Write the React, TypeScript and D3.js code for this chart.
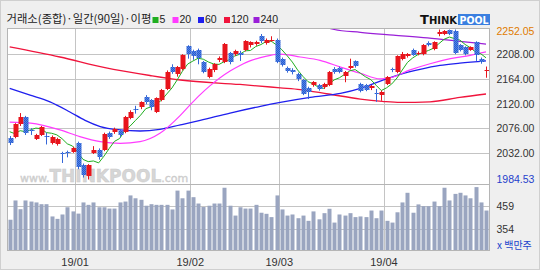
import React from "react";
import * as d3 from "d3";

// ---------- data ----------
const opens = [
  2058, 2061, 2083, 2096, 2073, 2057, 2064, 2062, 2049, 2048,
  2031, 2033, 2034, 2050, 2010, 1991, 2032, 2038, 2037, 2067,
  2069, 2071, 2069, 2094, 2111, 2113, 2131, 2126, 2105, 2126,
  2146, 2186, 2172, 2181, 2222, 2213, 2215, 2194, 2168, 2179,
  2197, 2194, 2210, 2208, 2211, 2215, 2224, 2226, 2240, 2228,
  2232, 2233, 2200, 2184, 2180, 2173, 2162, 2148, 2153, 2153,
  2149, 2153, 2182, 2183, 2170, 2183, 2195, 2155, 2153, 2147,
  2138, 2135, 2155, 2181, 2176, 2200, 2204, 2216, 2208, 2208,
  2228, 2217, 2244, 2244, 2251, 2250, 2224, 2220, 2216, 2229,
  2200, 2178,
];
const closes = [
  2049, 2083, 2096, 2067, 2071, 2064, 2078, 2061, 2061, 2057,
  2030, 2032, 2041, 2007, 1992, 2010, 2038, 2024, 2066, 2060,
  2074, 2064, 2096, 2105, 2109, 2122, 2122, 2113, 2129, 2144,
  2177, 2176, 2185, 2206, 2208, 2204, 2201, 2176, 2181, 2190,
  2201, 2226, 2194, 2213, 2206, 2231, 2229, 2229, 2231, 2233,
  2234, 2194, 2188, 2178, 2176, 2164, 2137, 2140, 2158, 2146,
  2155, 2176, 2176, 2177, 2176, 2187, 2187, 2143, 2145, 2151,
  2137, 2140, 2167, 2180, 2204, 2208, 2208, 2207, 2210, 2224,
  2224, 2229, 2247, 2249, 2244, 2210, 2216, 2208, 2220, 2206,
  2194, 2180,
];
const highs = [
  2062, 2085, 2103, 2098, 2076, 2066, 2080, 2068, 2063, 2059,
  2034, 2036, 2043, 2052, 2013, 2012, 2044, 2040, 2068, 2070,
  2077, 2074, 2098, 2108, 2116, 2124, 2135, 2128, 2131, 2146,
  2179, 2190, 2187, 2208, 2224, 2216, 2218, 2196, 2184, 2192,
  2204, 2228, 2212, 2216, 2214, 2233, 2231, 2232, 2244, 2236,
  2240, 2236, 2202, 2186, 2183, 2175, 2164, 2150, 2160, 2155,
  2157, 2178, 2185, 2186, 2178, 2200, 2197, 2157, 2155, 2153,
  2146, 2143, 2169, 2184, 2206, 2212, 2210, 2218, 2213, 2226,
  2231, 2231, 2252.05, 2251, 2252, 2252, 2226, 2222, 2222, 2231,
  2202, 2186,
];
const lows = [
  2046, 2058, 2080, 2064, 2064, 2055, 2062, 2047, 2047, 2045,
  2014, 2024, 2032, 2003, 1988, 1984.53, 2030, 2020, 2035, 2057,
  2066, 2060, 2067, 2092, 2102, 2110, 2119, 2108, 2103, 2124,
  2144, 2173, 2168, 2179, 2200, 2198, 2190, 2174, 2165, 2176,
  2194, 2192, 2190, 2205, 2196, 2213, 2220, 2223, 2228, 2225,
  2230, 2192, 2186, 2175, 2172, 2160, 2135, 2128, 2150, 2143,
  2146, 2151, 2173, 2174, 2158, 2181, 2184, 2140, 2142, 2144,
  2123, 2125, 2153, 2176, 2174, 2197, 2202, 2205, 2206, 2206,
  2222, 2215, 2240, 2242, 2242, 2208, 2213, 2206, 2214, 2196,
  2191, 2166,
];
const volumes = [
  394, 482, 442, 482, 477, 473, 465, 465, 409, 398,
  418, 451, 432, 422, 473, 462, 473, 451, 451, 445,
  445, 473, 477, 505, 492, 485, 458, 465, 462, 462,
  462, 441, 527, 492, 527, 497, 468, 452, 458, 468,
  468, 540, 458, 413, 451, 445, 445, 462, 426, 421,
  406, 505, 441, 413, 418, 401, 413, 389, 432, 396,
  424, 444, 381, 418, 413, 424, 406, 409, 406, 436,
  401, 436, 389, 381, 428, 473, 517, 426, 464, 456,
  456, 477, 456, 540, 482, 512, 517, 505, 492, 543,
  473, 436,
];
// closes of the 4 sessions before the first candle (for the 5-day average)
const priorCloses = [2101, 2069, 2076, 2054];

// moving averages: [candle index, value]
const ma20Pts: [number, number][] = [
  [0, 2087], [4, 2085], [9.6, 2073], [13.4, 2061], [17.3, 2052], [21.1, 2049],
  [24.9, 2052], [28.7, 2067], [32.6, 2099], [34.5, 2118], [36.4, 2136],
  [38.3, 2152], [40.2, 2166], [42.1, 2178], [44, 2188], [45.9, 2196],
  [47.9, 2202], [49.8, 2206], [51.7, 2208], [55.5, 2203], [59.3, 2197],
  [63.2, 2185], [67, 2174], [70.8, 2164], [72.7, 2166], [76.5, 2180],
  [80.3, 2191], [84.2, 2200], [88, 2206], [91, 2212],
];
const ma60Pts: [number, number][] = [
  [0, 2147], [3.9, 2135], [7.7, 2123], [11.5, 2105], [14.4, 2090],
  [17.3, 2079], [21.1, 2073], [24.9, 2071], [28.7, 2074], [32.6, 2082],
  [36.4, 2090], [42.1, 2103], [47.9, 2115], [51.7, 2122], [57.4, 2131],
  [63.2, 2138], [67, 2147], [70.8, 2160], [74.6, 2172], [78.4, 2181],
  [82.2, 2188], [86, 2192], [91, 2196],
];
const ma120Pts: [number, number][] = [
  [0, 2221], [9.6, 2203], [18.2, 2184], [26.8, 2170], [32.6, 2162],
  [44, 2154], [51.7, 2148], [55.5, 2145], [60.9, 2137], [67, 2128],
  [71.2, 2124], [74.6, 2122], [80.3, 2123], [86, 2131], [91, 2137],
];
const ma240Pts: [number, number][] = [
  [60, 2257], [62, 2252], [67, 2247], [73.3, 2242], [79.8, 2237],
  [86, 2231], [91, 2226],
];

const monthLabels = ["19/01", "19/02", "19/03", "19/04"];
const monthStarts = [13, 35, 52, 72];
const priceMin = 1984.53;
const priceMax = 2252.05;
const priceTicks = [2208, 2164, 2120, 2076, 2032];
const volTicks = [459, 354];
const maNames = ["5", "20", "60", "120", "240"];
const maColors = ["#1fae1f", "#ff3cff", "#1f1fee", "#f0143c", "#9a1fd8"];

// ---------- layout ----------
const W = 540;
const H = 270;
const L = 7;
const R = 489;
const T = 28;
const PB = 184;
const VB = 250;

const RED = "#e8141c";
const BLUE = "#3567d8";

export default function App() {
  const n = closes.length;
  const x = d3.scaleLinear().domain([0, n - 1]).range([9.7, 486]);
  const y = d3.scaleLinear().domain([priceMin, priceMax]).range([179.5, 29.5]);
  const yv = d3.scaleLinear().domain([volTicks[1], volTicks[0]]).range([228.5, 205.5]);

  const all = [...priorCloses, ...closes];
  const ma5: [number, number][] = closes.map((_, i) => {
    const w = all.slice(i, i + 5);
    return [i, d3.mean(w) as number];
  });

  const smooth = d3
    .line<[number, number]>()
    .x((d) => x(d[0]))
    .y((d) => y(d[1]))
    .curve(d3.curveMonotoneX);
  const straight = d3
    .line<[number, number]>()
    .x((d) => x(d[0]))
    .y((d) => y(d[1]));

  const bodyW = 4;
  const volW = 4;

  const sans = "'Noto Sans CJK KR', 'DejaVu Sans', sans-serif";
  const num = "'Liberation Sans', Arial, sans-serif";

  const legendX = [152.5, 172.5, 198, 224, 253.5];

  const axisText = (s: string, yy: number, fill: string, key?: string | number) => (
    <text key={key} x={496.5} y={yy} fontFamily={num} fontSize={10.5} fill={fill}>
      {s}
    </text>
  );

  return (
    <svg width={W} height={H} viewBox={`0 0 ${W} ${H}`} style={{ position: "absolute", left: 0, top: 0 }}>
      <defs>
        <pattern id="bluePat" width="2" height="2" patternUnits="userSpaceOnUse">
          <rect width="2" height="2" fill="#4f82e8" />
          <rect width="1" height="1" fill="#2a5ccc" />
          <rect x="1" y="1" width="1" height="1" fill="#2a5ccc" />
        </pattern>
        <clipPath id="priceClip">
          <rect x={L} y={T} width={R - L} height={PB - T} />
        </clipPath>
      </defs>
      <rect x={0} y={0} width={W} height={H} fill="#efefef" />
      <rect x={0.5} y={0.5} width={W - 1} height={H - 1} fill="none" stroke="#cfcfcf" />

      {/* title */}
      <text x={6.5} y={23} fontFamily={sans} fontSize={11.2} fill="#222" textLength={145} lengthAdjust="spacingAndGlyphs">
        거래소(종합)·일간(90일)·이평
      </text>
      {maNames.map((m, i) => (
        <g key={m}>
          <rect x={legendX[i]} y={17} width={6} height={6} fill={maColors[i]} />
          <text x={legendX[i] + 7} y={23} fontFamily={num} fontSize={10.5} fill="#222">
            {m}
          </text>
        </g>
      ))}

      {/* logo */}
      <text x={420} y={24} fontFamily="'DejaVu Sans', sans-serif" fontWeight="bold" fill="#111">
        <tspan fontSize={13}>T</tspan>
        <tspan fontSize={10}>HINK</tspan>
      </text>
      <rect x={458} y={14} width={32} height={11} fill="#3a7fe0" />
      <text
        x={474}
        y={23.5}
        fontFamily="'DejaVu Sans', sans-serif"
        fontWeight="bold"
        fontSize={10.5}
        fill="#fff"
        textAnchor="middle"
        textLength={29}
        lengthAdjust="spacingAndGlyphs"
      >
        POOL
      </text>

      {/* plot backgrounds */}
      <rect x={L} y={T} width={R - L} height={VB - T} fill="#fff" />

      {/* grid */}
      {priceTicks.map((t) => (
        <line key={t} x1={L} x2={R} y1={Math.round(y(t)) + 0.5} y2={Math.round(y(t)) + 0.5} stroke="#c4c4c4" />
      ))}
      {volTicks.map((t) => (
        <line key={t} x1={L} x2={R} y1={Math.round(yv(t)) + 0.5} y2={Math.round(yv(t)) + 0.5} stroke="#c4c4c4" />
      ))}
      {monthStarts.map((s) => {
        const gx = Math.round(x(s - 0.5)) + 0.5;
        return <line key={s} x1={gx} x2={gx} y1={T} y2={VB} stroke="#c4c4c4" />;
      })}

      {/* watermark */}
      <text x={20} y={182} fontFamily="'DejaVu Sans', sans-serif" fill="#d6d6d6" stroke="#c8c8c8" strokeWidth={0.4}>
        <tspan fontSize={11}>www.</tspan>
        <tspan fontSize={17} fontWeight="bold">THINKPOOL</tspan>
        <tspan fontSize={11}>.com</tspan>
      </text>

      {/* moving averages */}
      <g clipPath="url(#priceClip)" fill="none">
        <path d={smooth(ma240Pts) || ""} stroke={maColors[4]} strokeWidth={1.2} />
        <path d={smooth(ma120Pts) || ""} stroke={maColors[3]} strokeWidth={1.3} />
        <path d={smooth(ma60Pts) || ""} stroke={maColors[2]} strokeWidth={1.3} />
        <path d={smooth(ma20Pts) || ""} stroke={maColors[1]} strokeWidth={1.2} />
        <path d={straight(ma5) || ""} stroke={maColors[0]} strokeWidth={1} />
      </g>

      {/* candles */}
      <g clipPath="url(#priceClip)">
        {closes.map((c, i) => {
          const o = opens[i];
          const up = c >= o;
          const cx = Math.round(x(i));
          const col = up ? RED : BLUE;
          const top = Math.round(y(Math.max(o, c)));
          const bot = Math.round(y(Math.min(o, c)));
          return (
            <g key={i}>
              <line x1={cx + 0.5} x2={cx + 0.5} y1={y(highs[i])} y2={y(lows[i])} stroke={col} strokeWidth={1} />
              <rect
                x={cx + 0.5 - bodyW / 2}
                y={top}
                width={bodyW + 1}
                height={Math.max(1, bot - top)}
                fill={up ? RED : "url(#bluePat)"}
              />
            </g>
          );
        })}
      </g>

      {/* volume */}
      {volumes.map((v, i) => (
        <rect key={i} x={Math.round(x(i)) - volW / 2 + 0.5} y={yv(v)} width={volW} height={VB - yv(v)} fill="#9aa5c0" />
      ))}

      {/* frames */}
      <rect x={L + 0.5} y={T + 0.5} width={R - L} height={VB - T} fill="none" stroke="#b5b5b5" />
      <line x1={L} x2={R} y1={PB + 0.5} y2={PB + 0.5} stroke="#b5b5b5" />

      {/* right axis */}
      {axisText(priceMax.toFixed(2), 35, "#e07b00")}
      {priceTicks.map((t) => axisText(t.toFixed(2), y(t) + 4, "#333", t))}
      {axisText(priceMin.toFixed(2), y(priceMin) + 3, "#1f3fcc")}
      {volTicks.map((t) => axisText(String(t), yv(t) + 4, "#333", "v" + t))}
      <text x={497} y={249} fontFamily={sans} fontSize={10} fill="#2244cc">
        x 백만주
      </text>

      {/* x labels */}
      {monthStarts.map((s, i) => (
        <text key={s} x={x(s - 0.5)} y={266} fontFamily={num} fontSize={11} fill="#333" textAnchor="middle">
          {monthLabels[i]}
        </text>
      ))}
    </svg>
  );
}
